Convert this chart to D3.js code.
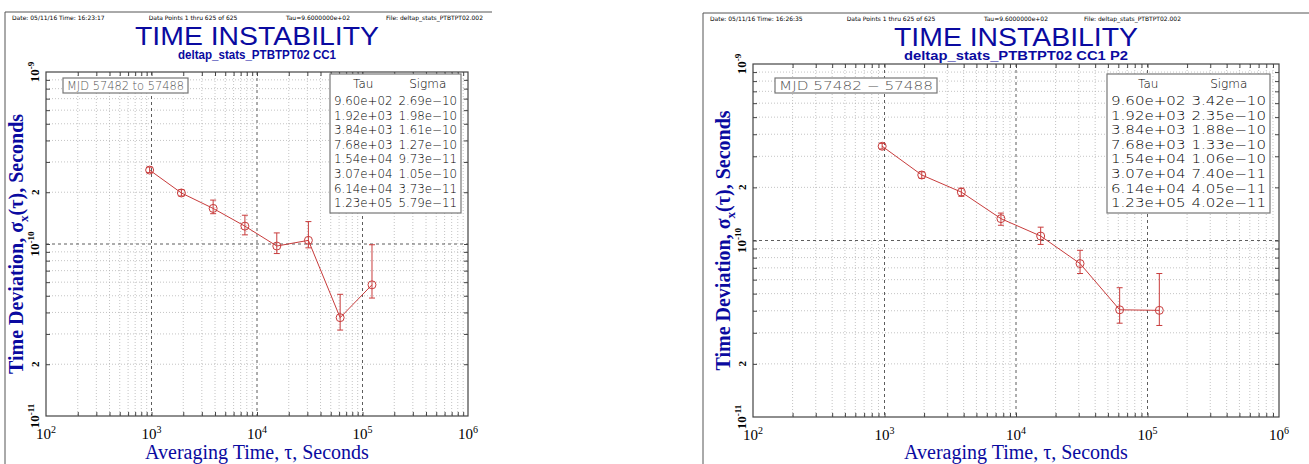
<!DOCTYPE html>
<html>
<head>
<meta charset="utf-8">
<script src="https://cdn.jsdelivr.net/npm/d3@7"></script>
<style>
  body { margin: 0; background: #fff; }
  svg text { fill: #000; }
</style>
</head>
<body>
<div id="chart"></div>
<script>
// Data
const tau = [960, 1920, 3840, 7680, 15400, 30700, 61400, 123000];
const tauLabels = ["9.60e+02", "1.92e+03", "3.84e+03", "7.68e+03", "1.54e+04", "3.07e+04", "6.14e+04", "1.23e+05"];

const sigmaCC1 = [2.69e-10, 1.98e-10, 1.61e-10, 1.27e-10, 9.73e-11, 1.05e-10, 3.73e-11, 5.79e-11];
const sigmaCC1Labels = ["2.69e-10", "1.98e-10", "1.61e-10", "1.27e-10", "9.73e-11", "1.05e-10", "3.73e-11", "5.79e-11"];
const hiCC1 = [2.8e-10, 2.07e-10, 1.8e-10, 1.47e-10, 1.16e-10, 1.35e-10, 5.1e-11, 9.9e-11];
const loCC1 = [2.6e-10, 1.9e-10, 1.5e-10, 1.13e-10, 8.8e-11, 9.5e-11, 3.16e-11, 4.85e-11];

const sigmaP2 = [3.42e-10, 2.35e-10, 1.88e-10, 1.33e-10, 1.06e-10, 7.40e-11, 4.05e-11, 4.02e-11];
const sigmaP2Labels = ["3.42e-10", "2.35e-10", "1.88e-10", "1.33e-10", "1.06e-10", "7.40e-11", "4.05e-11", "4.02e-11"];
const hiP2 = [3.55e-10, 2.45e-10, 1.98e-10, 1.43e-10, 1.19e-10, 8.8e-11, 5.4e-11, 6.5e-11];
const loP2 = [3.3e-10, 2.25e-10, 1.78e-10, 1.22e-10, 9.5e-11, 6.5e-11, 3.4e-11, 3.3e-11];

const xDecades = [2, 3, 4, 5, 6];
const blue = "#0a0aa0";
const red = "#c83c3c";

const svg = d3.select("#chart").append("svg")
    .attr("width", 1309).attr("height", 464);

function drawPanel(p) {
    const g = svg.append("g");
    // frame of the plot image
    g.append("path")
        .attr("d", `M${p.fx0},464V${p.fy0}H${p.fx1}`)
        .attr("fill", "none").attr("stroke", "#555").attr("stroke-width", 1);

    const x = d3.scaleLog().domain([1e2, 1e6]).range([p.x0, p.x1]);
    const y = d3.scaleLog().domain([1e-11, 1e-9]).range([p.y1, p.y0]);

    // header
    const hdr = g.append("g").style("font-family", "DejaVu Sans").style("font-size", "6px").style("fill", "#333");
    hdr.append("text").attr("x", p.fx0 + 7).attr("y", p.fy0 + 8).text(p.date);
    hdr.append("text").attr("x", p.fx0 + 188).attr("y", p.fy0 + 8).attr("text-anchor", "middle").text("Data Points 1 thru 625 of 625");
    hdr.append("text").attr("x", p.fx0 + 313).attr("y", p.fy0 + 8).attr("text-anchor", "middle").text("Tau=9.6000000e+02");
    hdr.append("text").attr("x", p.fx0 + 478).attr("y", p.fy0 + 8).attr("text-anchor", "end").text("File: deltap_stats_PTBTPT02.002");

    g.append("text").attr("x", p.cx - 122).attr("y", p.fy0 + 33)
        .style("font-family", "Liberation Sans")
        .style("font-size", "26px").style("fill", blue)
        .attr("textLength", 244).attr("lengthAdjust", "spacingAndGlyphs")
        .text("TIME INSTABILITY");
    g.append("text").attr("x", p.cx - p.subW / 2).attr("y", p.fy0 + 47)
        .style("font-family", "Liberation Sans")
        .style("font-size", "12.5px").style("font-weight", "bold").style("fill", blue)
        .attr("textLength", p.subW).attr("lengthAdjust", "spacingAndGlyphs")
        .text(p.subtitle);

    // minor grid
    const xMinor = [], yMinor = [];
    for (let e = 2; e < 6; e++) for (let k = 2; k <= 9; k++) xMinor.push(k * Math.pow(10, e));
    for (let e = -11; e < -9; e++) for (let k = 2; k <= 9; k++) yMinor.push(k * Math.pow(10, e));
    g.selectAll(".vx").data(xMinor).enter().append("line")
        .attr("x1", d => x(d)).attr("x2", d => x(d)).attr("y1", p.y0).attr("y2", p.y1)
        .attr("stroke", "#aaa").attr("stroke-width", 0.7).attr("stroke-dasharray", "1,2");
    g.selectAll(".hy").data(yMinor).enter().append("line")
        .attr("y1", d => y(d)).attr("y2", d => y(d)).attr("x1", p.x0).attr("x2", p.x1)
        .attr("stroke", "#aaa").attr("stroke-width", 0.7).attr("stroke-dasharray", "1,2");
    // major grid
    g.selectAll(".vm").data([1e3, 1e4, 1e5]).enter().append("line")
        .attr("x1", d => x(d)).attr("x2", d => x(d)).attr("y1", p.y0).attr("y2", p.y1)
        .attr("stroke", "#333").attr("stroke-width", 0.8).attr("stroke-dasharray", "3,3");
    g.append("line").attr("y1", y(1e-10)).attr("y2", y(1e-10)).attr("x1", p.x0).attr("x2", p.x1)
        .attr("stroke", "#333").attr("stroke-width", 0.8).attr("stroke-dasharray", "3,3");

    // axes box and ticks
    g.append("rect").attr("x", p.x0).attr("y", p.y0).attr("width", p.x1 - p.x0).attr("height", p.y1 - p.y0)
        .attr("fill", "none").attr("stroke", "#444").attr("stroke-width", 1.2);
    const tk = (sel, axis) => sel.call(axis).call(a => a.select(".domain").remove())
        .call(a => a.selectAll("text").remove()).call(a => a.selectAll("line").attr("stroke", "#444"));
    const xt = xMinor.concat([1e3, 1e4, 1e5]);
    const yt = yMinor.concat([1e-10]);
    tk(g.append("g").attr("transform", `translate(0,${p.y1})`), d3.axisTop(x).tickValues(xt).tickSize(4));
    tk(g.append("g").attr("transform", `translate(0,${p.y0})`), d3.axisBottom(x).tickValues(xt).tickSize(4));
    tk(g.append("g").attr("transform", `translate(${p.x0},0)`), d3.axisRight(y).tickValues(yt).tickSize(4));
    tk(g.append("g").attr("transform", `translate(${p.x1},0)`), d3.axisLeft(y).tickValues(yt).tickSize(4));

    // x tick labels
    const xl = g.append("g").style("font-family", "Liberation Serif").style("font-size", "15px");
    xDecades.forEach(e => {
        const t = xl.append("text").attr("x", x(Math.pow(10, e))).attr("y", p.y1 + 23).attr("text-anchor", "middle");
        t.append("tspan").text("10");
        t.append("tspan").attr("dy", -6).style("font-size", "10px").text(e);
    });
    // y tick labels (rotated)
    const yLabels = [[1e-9, "10", "-9"], [2e-10, "2", ""], [1e-10, "10", "-10"], [2e-11, "2", ""], [1e-11, "10", "-11"]];
    yLabels.forEach(([v, b, s]) => {
        const t = g.append("text").attr("transform", `translate(${p.x0 - 7},${y(v)}) rotate(-90)`)
            .attr("text-anchor", "middle").style("font-family", "Liberation Serif").style("font-size", b === "2" ? "11px" : "13px")
            .style("font-weight", "bold");
        t.append("tspan").text(b);
        if (s) t.append("tspan").attr("dy", -5).style("font-size", "9px").text(s);
    });

    // axis titles
    g.append("text").attr("x", p.cx).attr("y", 459).attr("text-anchor", "middle")
        .style("font-family", "Liberation Serif").style("font-size", "20px").style("fill", blue)
        .text("Averaging Time, τ, Seconds");
    const yt2 = g.append("text").attr("transform", `translate(${p.x0 - 23},${(p.y0 + p.y1) / 2}) rotate(-90)`)
        .attr("text-anchor", "middle").style("font-family", "Liberation Serif").style("font-size", "20px")
        .style("font-weight", "bold").style("fill", blue);
    yt2.append("tspan").text("Time Deviation, σ");
    yt2.append("tspan").attr("dy", 5).style("font-size", "13px").text("x");
    yt2.append("tspan").attr("dy", -5).text("(τ),  Seconds");

    // data
    const pts = tau.map((t, i) => ({t, s: p.sigma[i], hi: p.hi[i], lo: p.lo[i]}));
    g.append("path").datum(pts)
        .attr("d", d3.line().x(d => x(d.t)).y(d => y(d.s)))
        .attr("fill", "none").attr("stroke", red).attr("stroke-width", 1);
    const eb = g.selectAll(".eb").data(pts).enter().append("g").attr("stroke", red).attr("stroke-width", 1);
    eb.append("line").attr("x1", d => x(d.t)).attr("x2", d => x(d.t)).attr("y1", d => y(d.hi)).attr("y2", d => y(d.lo));
    eb.append("line").attr("x1", d => x(d.t) - 3).attr("x2", d => x(d.t) + 3).attr("y1", d => y(d.hi)).attr("y2", d => y(d.hi));
    eb.append("line").attr("x1", d => x(d.t) - 3).attr("x2", d => x(d.t) + 3).attr("y1", d => y(d.lo)).attr("y2", d => y(d.lo));
    eb.append("circle").attr("cx", d => x(d.t)).attr("cy", d => y(d.s)).attr("r", 4).attr("fill", "none");

    // MJD box
    g.append("rect").attr("x", p.mjd[0]).attr("y", 78).attr("width", p.mjd[1]).attr("height", 15)
        .attr("fill", "#fff").attr("stroke", "#777").attr("stroke-width", 1.2);
    g.append("text").attr("x", p.mjd[0] + 4).attr("y", 90).style("font-family", "DejaVu Sans")
        .style("font-size", "12px").style("font-weight", "300").style("fill", "#555")
        .attr("textLength", p.mjd[1] - 8).attr("lengthAdjust", "spacingAndGlyphs")
        .text(p.mjdText);

    // table
    const lx = p.leg[0], lw = p.leg[1];
    const colW = (lw - 14) / 2;
    g.append("rect").attr("x", lx).attr("y", 74).attr("width", lw).attr("height", 139)
        .attr("fill", "#fff").attr("stroke", "#777").attr("stroke-width", 1.2);
    const tt = g.append("g").style("font-family", "DejaVu Sans").style("font-size", "12px")
        .style("font-weight", "300").style("fill", "#555");
    tt.append("text").attr("x", lx + 4 + colW / 2).attr("y", 88).attr("text-anchor", "middle").text("Tau");
    tt.append("text").attr("x", lx + lw - 4 - colW / 2).attr("y", 88).attr("text-anchor", "middle").text("Sigma");
    tauLabels.forEach((t, i) => {
        tt.append("text").attr("x", lx + 4).attr("y", 105 + i * 14.6)
            .attr("textLength", colW).attr("lengthAdjust", "spacingAndGlyphs").text(t);
        tt.append("text").attr("x", lx + lw - 4 - colW).attr("y", 105 + i * 14.6)
            .attr("textLength", colW).attr("lengthAdjust", "spacingAndGlyphs").text(p.labels[i].replace("-", "\u2212"));
    });
}

drawPanel({
    fx0: 5, fy0: 12, fx1: 492, x0: 46, x1: 468, y0: 72, y1: 416, cx: 257, subW: 158,
    date: "Date: 05/11/16   Time: 16:23:17", subtitle: "deltap_stats_PTBTPT02 CC1",
    sigma: sigmaCC1, hi: hiCC1, lo: loCC1, labels: sigmaCC1Labels,
    mjd: [63, 125], mjdText: "MJD 57482 to 57488", leg: [330, 131]
});
drawPanel({
    fx0: 703, fy0: 13, fx1: 1309, x0: 753, x1: 1279, y0: 64, y1: 417, cx: 1016, subW: 224,
    date: "Date: 05/11/16   Time: 16:26:35", subtitle: "deltap_stats_PTBTPT02  CC1 P2",
    sigma: sigmaP2, hi: hiP2, lo: loP2, labels: sigmaP2Labels,
    mjd: [775, 162], mjdText: "MJD 57482  \u2212  57488", leg: [1107, 163]
});
</script>
</body>
</html>
